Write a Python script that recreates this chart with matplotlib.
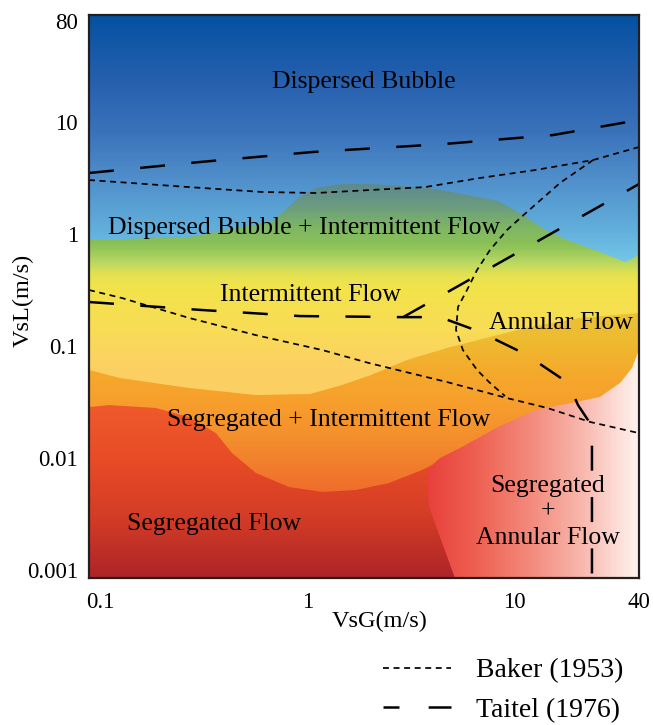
import numpy as np
import matplotlib
matplotlib.use('Agg')
import matplotlib.pyplot as plt
from matplotlib.colors import LinearSegmentedColormap
from matplotlib.patches import Polygon
from matplotlib.lines import Line2D

plt.rcParams['font.family'] = ['Liberation Serif', 'DejaVu Serif']
plt.rcParams['lines.scale_dashes'] = False

# limites de los ejes (VsG, VsL en m/s)
vsg_lim = (0.088, 40)
vsl_lim = (0.00085, 90)

# fronteras de las zonas de color (VsG, VsL)
bubble_vsg = [0.088, 0.268, 0.667, 0.770, 0.900, 1.10, 1.47, 2.03, 2.80, 3.87,
              5.64, 8.33, 10.6, 14.1, 17.95, 22.9, 29.0, 34.2, 37.0, 40]
bubble_vsl = [0.883, 0.939, 1.28, 1.60, 2.09, 2.57, 2.79, 2.79, 2.68, 2.57,
              2.27, 1.97, 1.54, 1.085, 0.883, 0.749, 0.636, 0.562, 0.598, 0.662]

orange_vsg = [0.088, 0.124, 0.268, 0.564, 1.03, 1.47, 2.03, 3.03, 4.72, 8.24, 11.9, 20.7, 40]
orange_vsl = [0.0611, 0.0518, 0.0422, 0.0365, 0.0373, 0.0449, 0.0551, 0.075, 0.096,
              0.125, 0.148, 0.178, 0.197]

red_vsg = [0.088, 0.110, 0.185, 0.268, 0.361, 0.432, 0.564, 0.815, 1.18, 1.72,
           2.48, 3.58, 5.22, 7.54, 13.3, 40]
red_vsl = [0.0285, 0.0297, 0.0280, 0.0232, 0.0167, 0.0111, 0.00735, 0.00551, 0.00498,
           0.00519, 0.00599, 0.00782, 0.0111, 0.0151, 0.0197, 0.0197]

pink_vsg = [5.16, 3.87, 3.78, 4.37, 5.58, 8.33, 12.6, 18.8, 25.9, 32.4, 37.0, 40]
pink_vsl = [0.00085, 0.00366, 0.00782, 0.0100, 0.01255, 0.0189, 0.0268, 0.0310,
            0.0351, 0.0468, 0.0636, 0.092]

# Taitel (1976)
taitel_upper_vsg = [0.088, 0.303, 1.06, 4.57, 15.4, 40]
taitel_upper_vsl = [3.50, 4.39, 5.39, 6.35, 7.64, 10.4]
taitel_lower_vsg = [0.088, 0.303, 0.920, 2.90, 4.37, 6.67, 11.25, 18.2, 20.3, 23.7, 23.7]
taitel_lower_vsl = [0.247, 0.210, 0.185, 0.181, 0.181, 0.136, 0.085, 0.0468, 0.0297, 0.0193, 0.00085]
taitel_annular_vsg = [2.90, 40]
taitel_annular_vsl = [0.181, 2.79]

# Baker (1953)
baker_upper_vsg = [0.088, 0.268, 0.603, 1.10, 2.03, 3.70, 6.82, 12.6, 24.0, 40]
baker_upper_vsl = [3.03, 2.62, 2.37, 2.32, 2.47, 2.62, 3.16, 3.72, 4.57, 5.97]
baker_annular_vsg = [24.0, 16.6, 11.5, 9.21, 7.62, 6.60, 5.90, 5.34, 5.22, 5.64, 6.60, 7.62, 9.01]
baker_annular_vsl = [4.57, 2.85, 1.57, 1.085, 0.719, 0.477, 0.316, 0.223, 0.139, 0.092,
                     0.0611, 0.0468, 0.0358]
baker_lower_vsg = [0.088, 0.127, 0.268, 0.564, 1.18, 1.98, 4.72, 9.21, 14.4, 23.2, 40]
baker_lower_vsl = [0.316, 0.268, 0.178, 0.125, 0.092, 0.0705, 0.0477, 0.0343, 0.0280, 0.0210, 0.0167]

# etiquetas de zonas
region_labels = ['Dispersed Bubble', 'Dispersed Bubble + Intermittent Flow', 'Intermittent Flow',
                 'Annular Flow', 'Segregated + Intermittent Flow', 'Segregated Flow',
                 'Segregated\n+\nAnnular Flow']
label_vsg = [1.88, 0.962, 1.03, 16.8, 1.26, 0.354, 14.5]
label_vsl = [22.7, 1.13, 0.285, 0.160, 0.0219, 0.00258, 0.0033]

x_ticks = [0.1, 1, 10, 40]
x_ticklabels = ['0.1', '1', '10', '40']
y_ticks = [0.001, 0.01, 0.1, 1, 10, 80]
y_ticklabels = ['0.001', '0.01', '0.1', '1', '10', '80']


def zona(ax, vsg, vsl, stops, z, horizontal=False, close_left=True):
    """Rellena una zona con degradado recortado por su frontera."""
    xs = list(vsg) + [vsg_lim[1]]
    ys = list(vsl) + [vsl_lim[0]]
    if close_left:
        xs.append(vsg_lim[0])
        ys.append(vsl_lim[0])
    poly = Polygon(np.column_stack([xs, ys]), closed=True, facecolor='none',
                   edgecolor='none', transform=ax.transData)
    ax.add_patch(poly)
    cmap = LinearSegmentedColormap.from_list('g', stops)
    g = np.linspace(0, 1, 600)
    img = g[None, :] if horizontal else g[:, None]
    im = ax.imshow(img, cmap=cmap, extent=[0, 1, 0, 1], transform=ax.transAxes,
                   aspect='auto', origin='upper', interpolation='bilinear', zorder=z)
    im.set_clip_path(poly)


fig = plt.figure(figsize=(6.53, 7.25), dpi=100)
ax = fig.add_axes([89 / 653, 1 - 578 / 725, 550 / 653, 563 / 725])
ax.set_xscale('log')
ax.set_yscale('log')
ax.set_xlim(*vsg_lim)
ax.set_ylim(*vsl_lim)
ax.set_autoscale_on(False)

# fondo azul (Dispersed Bubble)
cmap_blue = LinearSegmentedColormap.from_list('b', [(0, '#0452a2'), (0.115, '#2660ae'),
                                                   (0.204, '#3a72ba'), (0.293, '#5090cb'),
                                                   (0.382, '#62afdc'), (0.44, '#74c8e8'),
                                                   (1, '#74c8e8')])
ax.imshow(np.linspace(0, 1, 600)[:, None], cmap=cmap_blue, extent=[0, 1, 0, 1],
          transform=ax.transAxes, aspect='auto', origin='upper', interpolation='bilinear', zorder=0)

zona(ax, bubble_vsg, bubble_vsl,
     [(0, '#5d8a8e'), (0.30, '#5d8a8e'), (0.337, '#6a9a80'), (0.373, '#7cb466'),
      (0.409, '#8cc257'), (0.439, '#b9d862'), (0.462, '#e6e250'), (0.488, '#f3e34a'),
      (0.56, '#f8dc56'), (0.63, '#fcd064'), (1, '#fccb62')], 1)
zona(ax, orange_vsg, orange_vsl,
     [(0, '#e9c43a'), (0.515, '#e9c43a'), (0.577, '#eebb30'), (0.64, '#f5a82b'),
      (0.684, '#f7a02c'), (0.755, '#f48e2e'), (0.844, '#f06e2c'), (1, '#e85a2a')], 2)
zona(ax, red_vsg, red_vsl,
     [(0, '#ef5a2c'), (0.693, '#ef5a2c'), (0.79, '#e84c26'), (0.897, '#d23c26'),
      (1, '#ae2428')], 3)
zona(ax, pink_vsg, pink_vsl,
     [(0, '#e8403c'), (0.615, '#e8403c'), (0.70, '#ee5e50'), (0.80, '#f3887a'),
      (0.90, '#f8b8ae'), (1, '#fff2ee')], 4, horizontal=True, close_left=False)

# líneas de transición
baker_ls = (0, (4.3, 3.3))
taitel_ls = (0, (18, 19))
baker_style = dict(color='black', lw=1.25, linestyle=baker_ls, zorder=5)
taitel_style = dict(color='black', lw=1.8, linestyle=taitel_ls, zorder=5)
ax.plot(baker_upper_vsg, baker_upper_vsl, **baker_style)
ax.plot(baker_annular_vsg, baker_annular_vsl, **baker_style)
ax.plot(baker_lower_vsg, baker_lower_vsl, **baker_style)
ax.plot(taitel_upper_vsg, taitel_upper_vsl, **taitel_style)
ax.plot(taitel_lower_vsg, taitel_lower_vsl, **taitel_style)
ax.plot(taitel_annular_vsg, taitel_annular_vsl, **taitel_style)

for txt, x, y in zip(region_labels, label_vsg, label_vsl):
    ax.text(x, y, txt, ha='center', va='center', fontsize=18.5, linespacing=1.25, zorder=6)

ax.set_xticks(x_ticks)
ax.set_xticklabels(x_ticklabels)
ax.set_yticks(y_ticks)
ax.set_yticklabels(y_ticklabels)
ax.minorticks_off()
ax.tick_params(length=0, labelsize=16.5)
ax.tick_params(axis='x', pad=10)
ax.tick_params(axis='y', pad=8)
for sp in ax.spines.values():
    sp.set_linewidth(1.6)
    sp.set_color('#231f20')
    sp.set_zorder(7)

ax.set_xlabel('VsG(m/s)', fontsize=17.5)
ax.set_ylabel('VsL(m/s)', fontsize=17.5)
ax.xaxis.set_label_coords(0.529, -0.058)
ax.yaxis.set_label_coords(-0.10, 0.494)

handles = [Line2D([], [], color='black', lw=1.25, linestyle=baker_ls),
           Line2D([], [], color='black', lw=1.8, linestyle=(5, (16.5, 21)))]
fig.legend(handles, ['Baker (1953)', 'Taitel (1976)'], loc='upper left',
           bbox_to_anchor=(383 / 653, 1 - 658 / 725), frameon=False, fontsize=20,
           handlelength=2.45, handletextpad=0.9, labelspacing=0.5,
           borderpad=0, borderaxespad=0)

fig.savefig('out.png', dpi=100)
